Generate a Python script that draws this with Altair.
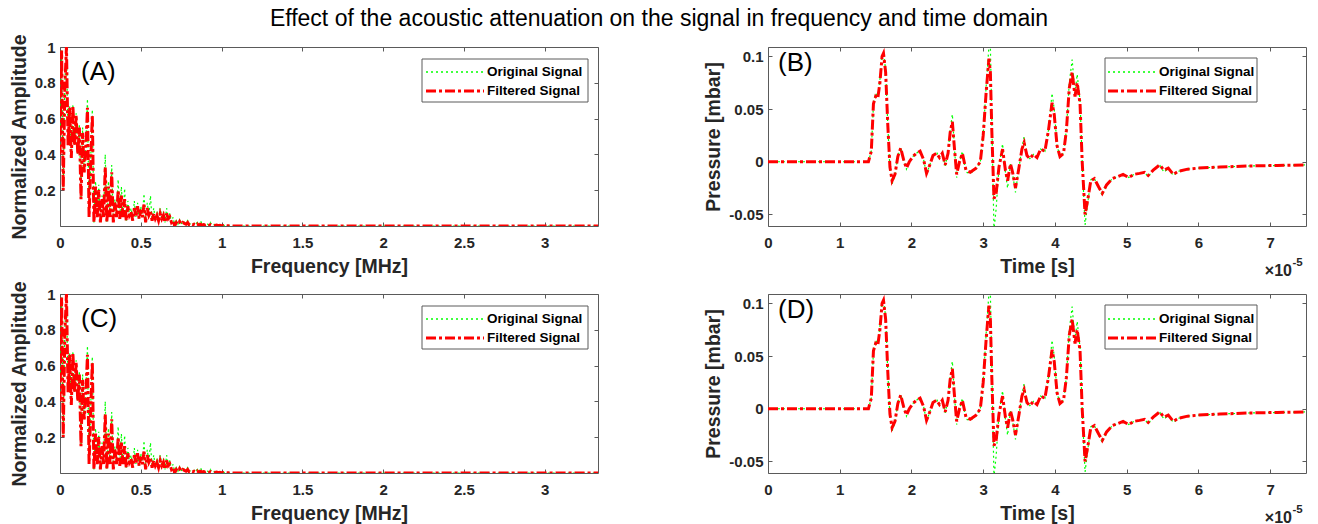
import altair as alt
import pandas as pd

# ---------------- data ----------------
TITLE = "Effect of the acoustic attenuation on the signal in frequency and time domain"
panel_labels = ["(A)", "(B)", "(C)", "(D)"]
legend_labels = ["Original Signal", "Filtered Signal"]

freq_mhz = [0.00, 0.01, 0.02, 0.03, 0.04, 0.05, 0.06, 0.07, 0.08, 0.09,
            0.10, 0.11, 0.12, 0.13, 0.14, 0.15, 0.16, 0.17, 0.18, 0.19,
            0.20, 0.21, 0.22, 0.23, 0.24, 0.25, 0.26, 0.27, 0.28, 0.29,
            0.30, 0.31, 0.32, 0.33, 0.34, 0.35, 0.36, 0.37, 0.38, 0.39,
            0.40, 0.41, 0.42, 0.43, 0.44, 0.45, 0.46, 0.47, 0.48, 0.49,
            0.50, 0.51, 0.52, 0.53, 0.54, 0.55, 0.56, 0.57, 0.58, 0.59,
            0.60, 0.61, 0.62, 0.63, 0.64, 0.65, 0.66, 0.67, 0.68, 0.69,
            0.70, 0.71, 0.72, 0.73, 0.74, 0.75, 0.76, 0.77, 0.78, 0.79,
            0.80, 0.81, 0.82, 0.83, 0.84, 0.85, 0.86, 0.87, 0.88, 0.89,
            0.90, 0.91, 0.92, 0.93, 0.94, 0.95, 0.96, 0.97, 0.98, 0.99,
            1.00, 1.01, 1.02, 1.03, 1.04, 1.05, 1.06,
            1.5, 2.0, 2.5, 3.0, 3.33]

filtered_amp = [0.40, 0.98, 0.20, 0.78, 1.00, 0.45, 0.66, 0.38, 0.67, 0.45,
                0.62, 0.40, 0.55, 0.15, 0.52, 0.30, 0.45, 0.66, 0.05, 0.35,
                0.62, 0.02, 0.22, 0.05, 0.20, 0.02, 0.15, 0.05, 0.33, 0.02,
                0.22, 0.05, 0.30, 0.02, 0.13, 0.05, 0.20, 0.04, 0.17, 0.05,
                0.15, 0.03, 0.11, 0.06, 0.08, 0.03, 0.10, 0.05, 0.11, 0.04,
                0.09, 0.05, 0.12, 0.02, 0.10, 0.06, 0.08, 0.03, 0.07, 0.04,
                0.06, 0.03, 0.07, 0.04, 0.06, 0.02, 0.07, 0.04, 0.05, 0.02,
                0.03, 0.00, 0.02, 0.01, 0.025, 0.01, 0.02, 0.015, 0.01, 0.02,
                0.005, 0.01, 0.005, 0.01, 0.005, 0.012, 0.004, 0.01, 0.005, 0.008,
                0.004, 0.009, 0.003, 0.008, 0.004, 0.006, 0.003, 0.005, 0.002, 0.004,
                0.002, 0.003, 0.001, 0.002, 0.001, 0.001, 0.0,
                0.0, 0.0, 0.0, 0.0, 0.0]

original_amp = [0.42, 0.98, 0.20, 0.80, 1.00, 0.46, 0.67, 0.38, 0.68, 0.45,
                0.63, 0.40, 0.57, 0.15, 0.55, 0.30, 0.47, 0.71, 0.05, 0.37,
                0.65, 0.02, 0.25, 0.05, 0.23, 0.02, 0.17, 0.05, 0.40, 0.02,
                0.25, 0.05, 0.34, 0.02, 0.15, 0.05, 0.26, 0.04, 0.22, 0.05,
                0.21, 0.03, 0.14, 0.06, 0.10, 0.03, 0.14, 0.05, 0.13, 0.04,
                0.11, 0.05, 0.18, 0.02, 0.13, 0.06, 0.17, 0.03, 0.10, 0.04,
                0.08, 0.03, 0.10, 0.04, 0.08, 0.02, 0.10, 0.04, 0.07, 0.02,
                0.05, 0.00, 0.03, 0.01, 0.035, 0.01, 0.03, 0.02, 0.015, 0.03,
                0.008, 0.015, 0.007, 0.015, 0.007, 0.02, 0.006, 0.03, 0.007, 0.012,
                0.006, 0.014, 0.005, 0.02, 0.006, 0.01, 0.005, 0.008, 0.003, 0.006,
                0.003, 0.005, 0.002, 0.003, 0.002, 0.001, 0.0,
                0.0, 0.0, 0.0, 0.0, 0.0]

# time in units of 1e-5 s
time_e5 = [0.0, 1.40, 1.44, 1.47, 1.50, 1.53, 1.56, 1.59, 1.61, 1.64,
           1.67, 1.70, 1.73, 1.77, 1.81, 1.85, 1.89, 1.93, 1.97, 2.02,
           2.07, 2.12, 2.17, 2.21, 2.25, 2.30, 2.35, 2.39, 2.43, 2.47,
           2.51, 2.54, 2.57, 2.60, 2.63, 2.67, 2.71, 2.76, 2.82, 2.90,
           2.96, 3.00, 3.04, 3.08, 3.10, 3.12, 3.15, 3.18, 3.22, 3.27,
           3.31, 3.34, 3.38, 3.41, 3.45, 3.50, 3.54, 3.57, 3.61, 3.65,
           3.70, 3.75, 3.80, 3.86, 3.91, 3.96, 3.99, 4.03, 4.07, 4.12,
           4.16, 4.20, 4.24, 4.28, 4.31, 4.35, 4.38, 4.42, 4.46, 4.50,
           4.55, 4.61, 4.66, 4.72, 4.80, 4.88, 4.95, 5.03, 5.10, 5.18,
           5.25, 5.30, 5.37, 5.46, 5.52, 5.58, 5.65, 5.72, 5.85, 6.0,
           6.3, 6.7, 7.1, 7.5]

filtered_p = [0, 0, 0.01, 0.055, 0.062, 0.06, 0.075, 0.10, 0.103, 0.085,
              0.035, -0.005, -0.018, -0.012, 0.005, 0.013, 0.002, -0.006, 0.0, 0.005,
              0.008, 0.01, 0.002, -0.011, -0.004, 0.006, 0.008, 0.004, 0.008, -0.003,
              0.008, 0.028, 0.038, 0.012, -0.012, 0.0, 0.008, -0.008, -0.01, -0.006,
              0.0, 0.025, 0.065, 0.098, 0.085, 0.03, -0.035, -0.03, -0.005, 0.012,
              -0.008, -0.018, -0.002, -0.01, -0.025, -0.005, 0.012, 0.018, 0.006, 0.003,
              0.007, 0.004, 0.012, 0.01, 0.03, 0.056, 0.045, 0.015, 0.005, 0.008,
              0.03, 0.07, 0.085, 0.062, 0.075, 0.055, 0.0, -0.05, -0.035, -0.018,
              -0.016, -0.024, -0.03, -0.022, -0.016, -0.014, -0.012, -0.015, -0.012, -0.011,
              -0.01, -0.013, -0.008, -0.003, -0.008, -0.006, -0.012, -0.009, -0.007, -0.006,
              -0.005, -0.004, -0.0035, -0.003]

original_p = [0, 0, 0.01, 0.055, 0.065, 0.062, 0.078, 0.10, 0.104, 0.087,
              0.035, -0.008, -0.021, -0.013, 0.005, 0.014, 0.002, -0.007, 0.0, 0.005,
              0.008, 0.011, 0.002, -0.012, -0.004, 0.006, 0.009, 0.004, 0.009, -0.004,
              0.008, 0.03, 0.045, 0.012, -0.015, 0.0, 0.01, -0.01, -0.011, -0.007,
              0.0, 0.025, 0.07, 0.11, 0.11, 0.04, -0.065, -0.045, -0.005, 0.017,
              -0.01, -0.025, -0.002, -0.012, -0.029, -0.005, 0.013, 0.024, 0.006, 0.003,
              0.007, 0.004, 0.012, 0.01, 0.03, 0.065, 0.05, 0.015, 0.005, 0.008,
              0.03, 0.075, 0.097, 0.065, 0.083, 0.058, 0.0, -0.06, -0.038, -0.017,
              -0.016, -0.025, -0.032, -0.022, -0.016, -0.014, -0.012, -0.015, -0.012, -0.011,
              -0.01, -0.014, -0.008, -0.003, -0.01, -0.006, -0.013, -0.009, -0.007, -0.006,
              -0.005, -0.004, -0.0035, -0.003]

freq_ticks = [0, 0.5, 1, 1.5, 2, 2.5, 3]
amp_ticks = [0.2, 0.4, 0.6, 0.8, 1]
time_ticks = [0, 1, 2, 3, 4, 5, 6, 7]
press_ticks = [-0.05, 0, 0.05, 0.1]

freq_domain = [0, 3.33]
amp_domain = [0, 1]
time_domain = [0, 7.5]
press_domain = [-0.061, 0.109]

# label positions in data coordinates
freq_label_pos = [0.13, 0.86]
time_label_pos = [0.14, 0.094]

# ---------------- style ----------------
FONT = "Liberation Sans"
GREEN = "#00ff00"
RED = "#ff0000"
FRAME = "#5a5a5a"
TXT = "#262626"
W, H = 538, 179
GREEN_DASH = [2, 3]
RED_DASH = [10, 3, 3, 3]


def main_axis(orient, values, title, lp, tp):
    return alt.Axis(orient=orient, values=values, title=title, offset=-4, tickSize=4,
                    domain=False, grid=False, labelPadding=lp, titlePadding=tp,
                    labelFlush=False, labelExpr="toString(datum.value)")


def tick_axis(orient, values):
    return alt.Axis(orient=orient, values=values, title=None, offset=-4, tickSize=4,
                    domain=False, grid=False, labels=False)


def legend_layers(bx0, bx1, by0, by1, sx0, sx1, tx, rows):
    one = pd.DataFrame({"k": [0]})
    box = alt.Chart(one).mark_rect(fill="white", stroke=FRAME, strokeWidth=1).encode(
        x=alt.value(bx0), x2=alt.value(bx1), y=alt.value(by0), y2=alt.value(by1))
    g = alt.Chart(one).mark_rule(color=GREEN, strokeWidth=1.4, strokeDash=GREEN_DASH).encode(
        x=alt.value(sx0), x2=alt.value(sx1), y=alt.value(rows[0]))
    r = alt.Chart(one).mark_rule(color=RED, strokeWidth=3, strokeDash=RED_DASH).encode(
        x=alt.value(sx0), x2=alt.value(sx1), y=alt.value(rows[1]))
    t1 = alt.Chart(pd.DataFrame({"lab": [legend_labels[0]]})).mark_text(
        align="left", baseline="middle", font=FONT, fontSize=13.5, fontWeight="bold",
        color="black").encode(x=alt.value(tx), y=alt.value(rows[0]), text="lab:N")
    t2 = alt.Chart(pd.DataFrame({"lab": [legend_labels[1]]})).mark_text(
        align="left", baseline="middle", font=FONT, fontSize=13.5, fontWeight="bold",
        color="black").encode(x=alt.value(tx), y=alt.value(rows[1]), text="lab:N")
    return [box, g, r, t1, t2]


def freq_panel(label, first):
    df = pd.DataFrame({"f": freq_mhz, "orig": original_amp, "filt": filtered_amp})
    xs = alt.Scale(domain=freq_domain, nice=False, zero=False)
    ys = alt.Scale(domain=amp_domain, nice=False, zero=False)
    green = alt.Chart(df).mark_line(color=GREEN, strokeWidth=1.2, strokeDash=GREEN_DASH,
                                    clip=True).encode(
        x=alt.X("f:Q", scale=xs, axis=main_axis("bottom", freq_ticks, "Frequency [MHz]", 9, 7)),
        y=alt.Y("orig:Q", scale=ys, axis=main_axis("left", amp_ticks, "Normalized Amplitude", 5, 5)))
    red = alt.Chart(df).mark_line(color=RED, strokeWidth=3, strokeDash=RED_DASH,
                                  clip=True).encode(
        x=alt.X("f:Q", scale=xs, axis=tick_axis("top", freq_ticks)),
        y=alt.Y("filt:Q", scale=ys, axis=tick_axis("right", amp_ticks)))
    lab = alt.Chart(pd.DataFrame({"x": [freq_label_pos[0]], "y": [freq_label_pos[1]],
                                  "t": [label]})).mark_text(
        align="left", baseline="middle", font=FONT, fontSize=26, color="black").encode(
        x=alt.X("x:Q", scale=xs, axis=None), y=alt.Y("y:Q", scale=ys, axis=None), text="t:N")
    layers = [green, red, lab] + legend_layers(362, 528, 12, 55, 366, 424, 427, [25, 44])
    if first:
        one = pd.DataFrame({"k": [0]})
        bounds = alt.Chart(one).mark_rule(color="white", strokeWidth=1).encode(
            x=alt.value(-58.5), y=alt.value(-45.5), y2=alt.value(0))
        title = alt.Chart(pd.DataFrame({"t": [TITLE]})).mark_text(
            align="center", baseline="middle", font=FONT, fontSize=23, color="black").encode(
            x=alt.value(599), y=alt.value(-28), text="t:N")
        layers = [bounds, title] + layers
    return alt.layer(*layers).resolve_axis(x="independent", y="independent").properties(
        width=W, height=H)


def time_panel(label):
    df = pd.DataFrame({"t": time_e5, "orig": original_p, "filt": filtered_p})
    xs = alt.Scale(domain=time_domain, nice=False, zero=False)
    ys = alt.Scale(domain=press_domain, nice=False, zero=False)
    green = alt.Chart(df).mark_line(color=GREEN, strokeWidth=1.2, strokeDash=GREEN_DASH,
                                    clip=True).encode(
        x=alt.X("t:Q", scale=xs, axis=main_axis("bottom", time_ticks, "Time [s]", 9, 7)),
        y=alt.Y("orig:Q", scale=ys, axis=main_axis("left", press_ticks, "Pressure [mbar]", 5, 5)))
    red = alt.Chart(df).mark_line(color=RED, strokeWidth=3, strokeDash=RED_DASH,
                                  clip=True).encode(
        x=alt.X("t:Q", scale=xs, axis=tick_axis("top", time_ticks)),
        y=alt.Y("filt:Q", scale=ys, axis=tick_axis("right", press_ticks)))
    lab = alt.Chart(pd.DataFrame({"x": [time_label_pos[0]], "y": [time_label_pos[1]],
                                  "t": [label]})).mark_text(
        align="left", baseline="middle", font=FONT, fontSize=26, color="black").encode(
        x=alt.X("x:Q", scale=xs, axis=None), y=alt.Y("y:Q", scale=ys, axis=None), text="t:N")
    exp1 = alt.Chart(pd.DataFrame({"s": ["×10"]})).mark_text(
        align="right", baseline="middle", font=FONT, fontSize=16, fontWeight="bold",
        color=TXT).encode(x=alt.value(524), y=alt.value(224), text="s:N")
    exp2 = alt.Chart(pd.DataFrame({"s": ["-5"]})).mark_text(
        align="left", baseline="middle", font=FONT, fontSize=11.5, fontWeight="bold",
        color=TXT).encode(x=alt.value(524.5), y=alt.value(216), text="s:N")
    layers = [green, red, lab, exp1, exp2] + legend_layers(337, 489, 11, 55, 340, 389, 391,
                                                            [25, 44])
    return alt.layer(*layers).resolve_axis(x="independent", y="independent").properties(
        width=W, height=H)


chart = alt.concat(
    freq_panel(panel_labels[0], True), time_panel(panel_labels[1]),
    freq_panel(panel_labels[2], False), time_panel(panel_labels[3]),
    columns=2, spacing={"row": 68, "column": 170}, bounds="flush",
).properties(padding=0).configure_view(
    stroke=FRAME, strokeWidth=1
).configure_axis(
    labelFont=FONT, labelFontSize=15, labelFontWeight="bold", labelColor=TXT,
    titleFont=FONT, titleFontSize=19.5, titleFontWeight="bold", titleColor=TXT,
    tickColor=FRAME, tickWidth=1,
)

chart.save("out.html", embed_options={"renderer": "svg", "actions": False})
